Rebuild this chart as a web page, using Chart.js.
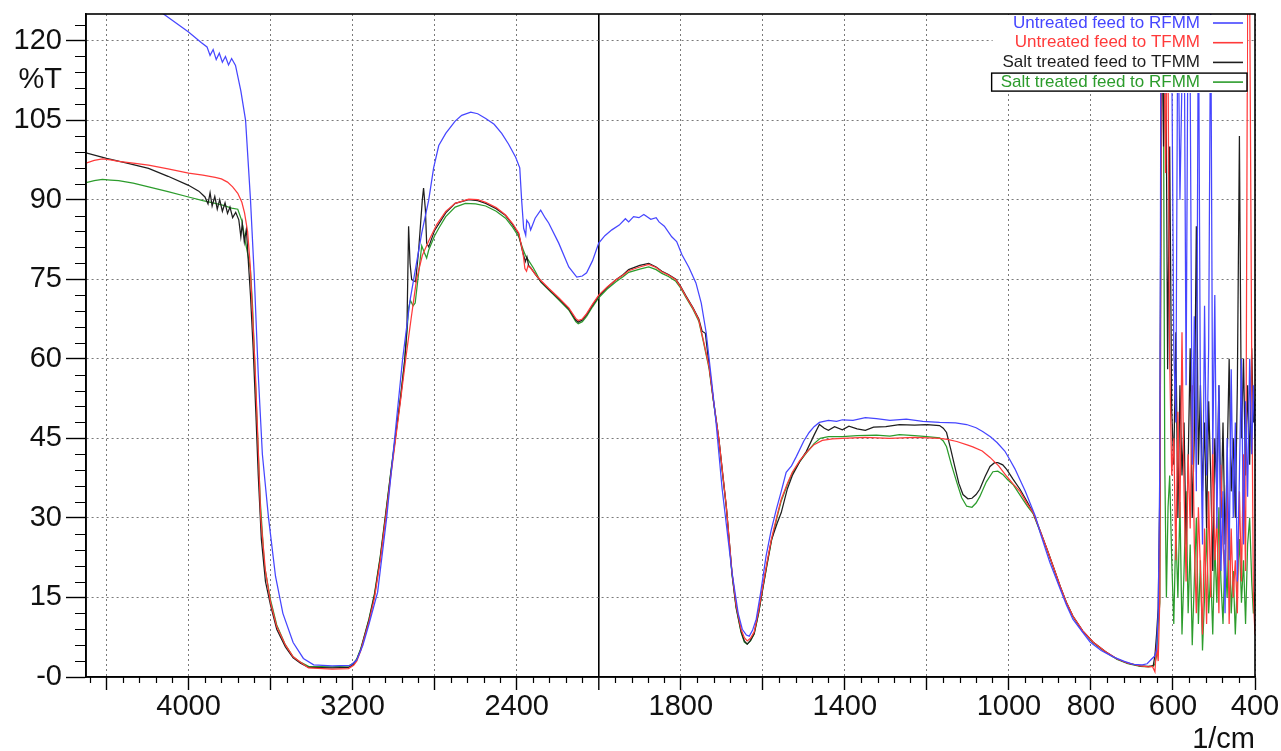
<!DOCTYPE html>
<html>
<head>
<meta charset="utf-8">
<title>FTIR spectra</title>
<script src="https://cdn.jsdelivr.net/npm/chart.js@4.4.0/dist/chart.umd.min.js"></script>
<style>
  html, body { margin: 0; padding: 0; background: #fff; }
  #wrap { width: 1281px; height: 751px; position: relative; }
</style>
</head>
<body>
<div id="wrap"><canvas id="ftirChart"></canvas></div>
<script>
// Tick marks on the split wavenumber axis
const xMajorTicks = [4400, 4000, 3600, 3200, 2800, 2400, 2000, 1800, 1600, 1400, 1200, 1000, 800, 600, 400];
const xTickLabels = [4000, 3200, 2400, 1800, 1400, 1000, 800, 600, 400];
const yMajorTicks = [0, 15, 30, 45, 60, 75, 90, 105, 112.5, 120];
const yUnitTick = 112.5; // where "%T" sits

const seriesLabels = ['Untreated feed to RFMM', 'Untreated feed to TFMM', 'Salt treated feed to TFMM', 'Salt treated feed to RFMM'];
const seriesColors = ['#4646ff', '#ff3a3a', '#1e1e1e', '#2c9c2c'];

// Untreated feed to RFMM (blue)
const untreatedRfmmWn = [
  4500, 4122, 4000, 3937, 3910, 3895, 3880, 3865, 3850, 3835,
  3820, 3805, 3790, 3771, 3745, 3722, 3698, 3680, 3660, 3640,
  3610, 3576, 3540, 3490, 3440, 3390, 3300, 3210, 3180, 3150,
  3120, 3078, 3034, 2995, 2956, 2920, 2900, 2863, 2829, 2805,
  2780, 2746, 2700, 2668, 2624, 2590, 2551, 2510, 2473, 2440, 2405,
  2385, 2376, 2366, 2356,
  2351, 2340, 2332, 2310, 2283, 2260, 2244, 2195, 2146, 2107,
  2080, 2059, 2030, 2000, 1985, 1968, 1950, 1935, 1927, 1915,
  1902, 1890, 1873, 1860, 1853, 1840, 1822, 1810, 1797, 1780,
  1763, 1750, 1738, 1725, 1714, 1699, 1675, 1660, 1650, 1640,
  1633, 1625, 1616, 1605, 1592, 1580, 1567, 1555, 1543, 1530,
  1518, 1500, 1487, 1475, 1462, 1440, 1420, 1406, 1380, 1350,
  1323, 1290, 1250, 1210, 1169, 1130, 1103, 1080, 1064, 1045,
  1029, 1010, 998, 985, 973, 960, 949, 935, 924, 912,
  900, 887, 875, 860, 844, 820, 802, 775, 746, 720,
  697, 675, 663, 652, 645, 640, 636, 632, 629, 624,
  619, 614, 609, 604, 598, 593, 588, 583, 578, 573,
  568, 563, 558, 553, 548, 543, 538, 533, 528, 523,
  518, 513, 508, 503, 498, 493, 488, 483, 478, 473,
  468, 463, 458, 453, 448, 443, 438, 433, 428, 423,
  418, 413, 408, 404, 400
];
const untreatedRfmmT = [
  135, 125, 121.6, 119.6, 118.8, 117.2, 118.3, 116.4, 117.6, 115.9,
  117.0, 115.4, 116.6, 115.3, 110.5, 105, 90, 76, 57, 42,
  30, 19, 12, 6.5, 3.5, 2.3, 2.1, 2.2, 3.2, 6,
  10, 16, 30, 45, 60, 71, 75.5, 83.7, 89.9, 96,
  100.2, 102.5, 104.8, 105.9, 106.5, 106.2, 105.3, 104.2, 102.5, 100.5, 98,
  96, 90, 84.6, 83.3,
  86.1, 85.5, 84.3, 86.5, 88, 86.5, 85.6, 81.8, 77.3, 75.4,
  75.6, 76.2, 78.5, 81.8, 83.2, 84.3, 85.2, 86.4, 85.8, 86.8,
  86.6, 87.2, 86.3, 86.6, 85.8, 85.0, 83.0, 82.1, 79.6, 77.2,
  74.3, 70.5, 64.9, 56, 48, 35.4, 19.7, 12, 9, 7.9,
  7.7, 8.8, 10.9, 16, 22.8, 27.5, 31.6, 35, 38.6, 39.8,
  41.6, 44.5, 46.1, 47.2, 48, 48.4, 48.2, 48.5, 48.4, 48.9,
  48.7, 48.4, 48.6, 48.2, 48, 47.9, 47.6, 47.0, 46.3, 45.3,
  44.2, 42.6, 41, 39.2, 37.2, 35, 32.9, 30.2, 27.3, 24.4,
  21.6, 19, 16.6, 13.6, 10.9, 8.4, 6.6, 5.0, 3.8, 3.0,
  2.4, 2.3, 2.5, 3.4, 3.9, 5, 12, 40, 130, 130,
  110, 130, 118, 130, 62, 48, 130, 90, 113, 130,
  55, 130, 112, 40, 68, 35, 130, 50, 25, 70,
  38, 62, 130, 42, 72, 28, 55, 20, 35, 12,
  45, 22, 58, 30, 48, 18, 38, 60, 25, 52,
  34, 60, 42, 55, 45
];

// Untreated feed to TFMM (red)
const untreatedTfmmWn = [
  4500, 4460, 4420, 4380, 4341, 4270, 4195, 4100, 4000, 3930,
  3870, 3840, 3810, 3785, 3760, 3740, 3727, 3712, 3700, 3690,
  3675, 3662, 3648, 3625, 3600, 3570, 3527, 3490, 3454, 3415,
  3300, 3220, 3195, 3180, 3160, 3146, 3120, 3093, 3065, 3039,
  3015, 2990, 2965, 2941, 2915, 2888, 2860, 2829, 2790, 2746,
  2700, 2634, 2590, 2551, 2500, 2454, 2420, 2390, 2375, 2366,
  2360, 2352, 2345, 2332, 2307, 2283, 2244, 2195, 2146, 2112,
  2100, 2080, 2059, 2030, 2000, 1980, 1958, 1940, 1927, 1900,
  1878, 1860, 1846, 1830, 1812, 1800, 1787, 1770, 1756, 1745,
  1731, 1720, 1707, 1698, 1689, 1675, 1665, 1653, 1645, 1638,
  1630, 1621, 1610, 1601, 1590, 1579, 1565, 1555, 1540, 1528,
  1510, 1494, 1475, 1455, 1430, 1406, 1350, 1291, 1230, 1169,
  1150, 1127, 1100, 1088, 1065, 1046, 1025, 1005, 990, 973,
  955, 941, 925, 907, 890, 875, 860, 844, 820, 795,
  765, 736, 710, 680, 660, 650, 644, 640, 636, 632,
  628, 623, 618, 613, 608, 603, 598, 593, 588, 583,
  578, 573, 568, 563, 558, 553, 548, 543, 538, 533,
  528, 523, 518, 513, 508, 503, 498, 493, 488, 483,
  478, 473, 468, 463, 458, 453, 448, 443, 438, 433,
  428, 423, 418, 413, 408, 404, 400
];
const untreatedTfmmT = [
  96.9, 97.4, 97.7, 97.5, 97.2, 96.9, 96.5, 95.8, 95, 94.6,
  94.2, 93.9, 93.3, 92.4, 91.2, 89.5, 87.5, 84, 78, 70,
  58, 45, 30, 20, 14, 9.5, 6, 3.8, 2.8, 1.7,
  1.5, 1.6, 2.2, 3, 5, 7, 10.5, 15, 22, 30,
  37.5, 45, 52.5, 60, 67.5, 75, 79.5, 82.2, 85.3, 87.8,
  89.3, 90.1, 90.0, 89.5, 88.5, 87.1, 85.5, 83.7, 81, 79,
  77, 76.5, 77.5, 77.1, 75.8, 74.8, 73.3, 71.5, 69.6, 67.6,
  67.2, 67.5, 68.5, 70.3, 72, 73.5, 74.9, 75.8, 76.6, 77.3,
  77.8, 77.2, 76.4, 75.8, 74.9, 73.5, 71.7, 69.5, 67.3, 63.5,
  58.5, 52, 44.8, 38.5, 32.2, 19.7, 13.5, 9, 7.4, 6.8,
  7.3, 8.5, 12.5, 16.6, 21.5, 26, 30.5, 33.5, 36.5, 38.6,
  40.8, 42.3, 43.8, 44.6, 44.9, 45, 45.2, 45.0, 45.2, 45,
  44.8, 44.4, 43.7, 43.4, 42.6, 41.4, 39.8, 37.8, 36.4, 35,
  32.6, 31, 27.8, 24.1, 20.4, 17.1, 14.1, 11.5, 8.7, 6.6,
  4.8, 3.4, 2.6, 2.1, 1.9, 2.0, 1, 6, 3, 15,
  130, 130, 95, 130, 60, 38, 45, 22, 50, 30,
  65, 35, 18, 42, 28, 55, 25, 12, 32, 20,
  8, 28, 10, 35, 15, 45, 22, 30, 12, 40,
  25, 18, 38, 10, 28, 15, 22, 12, 35, 18,
  42, 20, 130, 130, 60, 15, 8
];

// Salt treated feed to TFMM (black)
const saltTfmmWn = [
  4500, 4450, 4400, 4300, 4195, 4100, 4000, 3950, 3920, 3905,
  3895, 3885, 3872, 3860, 3848, 3835, 3822, 3810, 3798, 3785,
  3770, 3755, 3745, 3738, 3728, 3718, 3708, 3698, 3685, 3672,
  3660, 3645, 3625, 3600, 3570, 3527, 3490, 3454, 3415, 3300,
  3220, 3195, 3180, 3160, 3146, 3120, 3093, 3065, 3039, 3015,
  2990, 2965, 2945, 2935, 2927, 2920, 2912, 2893, 2878, 2860,
  2854, 2845, 2839, 2829, 2800, 2746, 2700, 2634, 2590, 2551,
  2500, 2454, 2420, 2390, 2375, 2366, 2358, 2350, 2342, 2332,
  2307, 2283, 2244, 2195, 2146, 2112, 2100, 2080, 2059, 2030,
  2000, 1980, 1958, 1940, 1927, 1900, 1878, 1860, 1846, 1830,
  1812, 1800, 1787, 1770, 1756, 1748, 1740, 1731, 1720, 1707,
  1698, 1689, 1675, 1665, 1653, 1645, 1638, 1630, 1621, 1610,
  1601, 1590, 1579, 1565, 1555, 1540, 1528, 1510, 1494, 1475,
  1462, 1450, 1440, 1425, 1406, 1390, 1370, 1350, 1330, 1300,
  1267, 1230, 1200, 1169, 1160, 1152, 1142, 1132, 1122, 1112,
  1100, 1090, 1080, 1071, 1058, 1046, 1035, 1027, 1015, 1005,
  990, 973, 955, 941, 925, 907, 890, 875, 860, 844,
  820, 795, 765, 736, 710, 680, 660, 652, 648, 644,
  640, 636, 632, 628, 623, 618, 613, 608, 603, 598,
  593, 588, 583, 578, 573, 568, 563, 558, 553, 548,
  543, 538, 533, 528, 523, 518, 513, 508, 503, 498,
  493, 488, 483, 478, 473, 468, 463, 458, 453, 448,
  443, 438, 433, 428, 423, 418, 413, 408, 404, 400
];
const saltTfmmT = [
  98.8, 98.3, 97.8, 96.9, 95.9, 94.4, 92.7, 91.6, 90.5, 89.2,
  91.3, 88.8, 90.6, 88.2, 90.0, 87.8, 89.4, 87.4, 88.6, 86.6,
  87.6, 86.2, 83.0, 85.5, 82.0, 84.5, 78, 72, 62, 50,
  38, 26, 18, 13.5, 9, 5.6, 3.6, 2.6, 1.8, 1.7,
  1.8, 2.4, 3.2, 5.2, 7.2, 10.8, 15.5, 22.5, 30.5, 38,
  45.5, 53, 60, 66, 85, 78, 74.9, 74.5, 80.5, 90,
  92.2, 88, 81.8, 81.1, 84.2, 87.5, 89.3, 90.0, 89.8, 89.3,
  88.3, 87, 85.3, 83.5, 80.8, 79.5, 78.3, 79.2, 77.6, 77.2,
  75.8, 74.6, 73.1, 71.3, 69.4, 67.3, 66.9, 67.3, 68.3, 70.1,
  71.8, 73.4, 74.9, 75.9, 76.8, 77.6, 78.0, 77.3, 76.5, 75.9,
  75.0, 73.6, 71.8, 69.6, 67.5, 65.2, 64.8, 58.8, 52, 44.8,
  38.5, 32.2, 19.5, 13.2, 8.6, 6.8, 6.2, 6.9, 8.2, 12.2,
  16.3, 21.2, 25.8, 29, 31, 35.5, 38.0, 40.6, 42.5, 45.6,
  47.6, 46.9, 46.5, 47.2, 46.6, 47.3, 46.8, 46.5, 47.1, 47.2,
  47.6, 47.5, 47.6, 47.4, 46.9, 46.1, 43, 39.7, 36.5, 34.4,
  33.6, 33.7, 34.4, 35.4, 37.8, 39.7, 40.4, 40.4, 40.0, 39.1,
  37.3, 35.4, 33.0, 31, 27.8, 24.1, 20.4, 17.1, 14.1, 11.5,
  8.7, 6.6, 4.8, 3.4, 2.6, 2.1, 2.0, 2.1, 2.2, 4,
  8, 13, 35, 130, 100, 130, 58, 100, 50, 40,
  65, 30, 55, 38, 48, 25, 40, 62, 30, 45,
  85, 40, 55, 35, 48, 28, 52, 38, 20, 45,
  35, 55, 30, 48, 25, 40, 60, 35, 45, 30,
  55, 102, 45, 60, 38, 55, 40, 62, 48, 52
];

// Salt treated feed to RFMM (green)
const saltRfmmWn = [
  4500, 4460, 4420, 4380, 4341, 4270, 4195, 4100, 4000, 3930,
  3870, 3830, 3790, 3760, 3740, 3722, 3710, 3698, 3688, 3678,
  3665, 3650, 3630, 3600, 3570, 3530, 3490, 3455, 3415, 3300,
  3220, 3195, 3180, 3160, 3146, 3120, 3093, 3065, 3039, 3015,
  2990, 2965, 2948, 2935, 2927, 2918, 2905, 2895, 2880, 2863,
  2850, 2839, 2829, 2800, 2780, 2746, 2700, 2650, 2600, 2551,
  2500, 2454, 2420, 2390, 2375, 2366, 2355, 2340, 2320, 2307,
  2283, 2244, 2195, 2146, 2112, 2100, 2080, 2059, 2030, 2000,
  1980, 1958, 1940, 1927, 1900, 1878, 1860, 1846, 1830, 1812,
  1800, 1787, 1770, 1756, 1745, 1731, 1720, 1707, 1698, 1689,
  1675, 1665, 1653, 1645, 1638, 1630, 1621, 1610, 1601, 1590,
  1579, 1565, 1555, 1540, 1528, 1510, 1494, 1475, 1460, 1440,
  1406, 1370, 1323, 1290, 1267, 1230, 1200, 1169, 1160, 1152,
  1140, 1127, 1115, 1103, 1090, 1080, 1071, 1055, 1039, 1027,
  1015, 1003, 990, 978, 966, 955, 941, 925, 907, 890,
  875, 860, 844, 820, 795, 765, 736, 710, 680, 660,
  652, 648, 644, 640, 636, 632, 628, 624, 620, 616,
  612, 608, 603, 598, 593, 588, 583, 578, 573, 568,
  563, 558, 553, 548, 543, 538, 533, 528, 523, 518,
  513, 508, 503, 498, 493, 488, 483, 478, 473, 468,
  463, 458, 453, 448, 443, 438, 433, 428, 423, 418,
  413, 408, 404, 400
];
const saltRfmmT = [
  93.2, 93.6, 93.8, 93.7, 93.6, 93.1, 92.4, 91.5, 90.5, 89.8,
  89.3, 88.9, 88.4, 88.2, 86.0, 81.8, 79.5, 76.7, 70, 60,
  47, 33, 21, 14.5, 9.8, 6.2, 3.8, 2.8, 2.0, 1.9,
  2.1, 2.6, 3.4, 5.4, 7.3, 11, 15.8, 22.8, 30.8, 38.3,
  45.8, 53.3, 59, 65, 69.6, 71, 70, 70.5, 75.5, 81.3,
  80, 79, 80.5, 83.2, 84.6, 86.8, 88.6, 89.3, 89.2, 88.8,
  87.8, 86.5, 84.8, 83, 81.3, 80.3, 79.3, 78.4, 77.2, 76.3,
  74.5, 73, 71.1, 69.2, 67.0, 66.6, 67.0, 68, 69.8, 71.5,
  73.1, 74.5, 75.5, 76.3, 76.9, 77.3, 76.8, 76.1, 75.5, 74.6,
  73.3, 71.5, 69.3, 67.1, 63.3, 58.2, 51.8, 44.6, 38.2, 32,
  19.3, 13.0, 8.4, 6.6, 6.2, 6.8, 8.1, 12.1, 16.2, 21.0,
  25.6, 30.2, 33.2, 36.3, 38.4, 40.6, 42.2, 44.0, 45.0, 45.3,
  45.3, 45.5, 45.6, 45.4, 45.7, 45.5, 45.3, 45.1, 44.5, 43.4,
  40, 36.7, 33.8, 32.2, 32, 32.8, 34, 36.8, 38.7, 38.8,
  38.2, 37.2, 36.3, 34.9, 33.5, 32.2, 30.8, 27.6, 24.0, 20.3,
  17.0, 14.0, 11.4, 8.6, 6.5, 4.7, 3.3, 2.5, 2.0, 1.9,
  2.0, 2, 2.5, 4, 10, 14, 130, 130, 40, 15,
  32, 38, 22, 10, 28, 15, 33, 8, 20, 35,
  12, 25, 6, 18, 30, 10, 22, 5, 15, 28,
  12, 20, 8, 25, 14, 32, 18, 10, 24, 15,
  30, 12, 20, 8, 18, 26, 14, 22, 10, 25,
  30, 18, 12, 16
];

(function() {
  'use strict';

  // The axis is split at 2000 1/cm: 4500-2000 is drawn at half the scale of 2000-400
  function toPos(wn) {
    return wn >= 2000 ? (4500 - wn) / 2 : 1250 + (2000 - wn);
  }
  function toWn(pos) {
    return pos <= 1250 ? 4500 - pos * 2 : 2000 - (pos - 1250);
  }
  function toPoints(wn, t) {
    return wn.map((w, i) => ({ x: toPos(w), y: t[i] }));
  }

  const splitPos = toPos(2000);
  const fontFamily = '"Liberation Sans", Arial, sans-serif';
  const gridGray = '#7a7a7a';
  const clear = 'rgba(0,0,0,0)';

  // Minor ticks, frame and legend box
  const decorPlugin = {
    id: 'ftirDecor',
    afterDraw(chart) {
      const { ctx, chartArea: a, scales: { x, y } } = chart;
      ctx.save();

      // minor ticks
      ctx.strokeStyle = '#000';
      ctx.lineWidth = 1.2;
      ctx.beginPath();
      for (let w = 4480; w > 2000; w -= 80) {
        if (w % 400 === 0) continue;
        const px = Math.round(x.getPixelForValue(toPos(w))) + 0.5;
        ctx.moveTo(px, a.bottom);
        ctx.lineTo(px, a.bottom + 6);
      }
      for (let w = 1960; w > 400; w -= 40) {
        if (w % 200 === 0) continue;
        const px = Math.round(x.getPixelForValue(toPos(w))) + 0.5;
        ctx.moveTo(px, a.bottom);
        ctx.lineTo(px, a.bottom + 6);
      }
      for (let v = 3; v < 125; v += 3) {
        if (v % 15 === 0) continue;
        const py = Math.round(y.getPixelForValue(v)) + 0.5;
        ctx.moveTo(a.left - 11, py);
        ctx.lineTo(a.left, py);
      }
      ctx.stroke();

      // legend in the top right corner, on a white panel
      ctx.font = '17px ' + fontFamily;
      ctx.textAlign = 'right';
      ctx.textBaseline = 'middle';
      const textRight = a.right - 55;
      const widest = Math.max(...chart.data.datasets.map(ds => ctx.measureText(ds.label).width));
      ctx.fillStyle = '#fff';
      ctx.fillRect(textRight - widest - 8, a.top + 1, a.right - 8 - (textRight - widest - 8), 78);

      chart.data.datasets.forEach((ds, i) => {
        const yy = a.top + 9 + i * 19.7;
        ctx.fillStyle = ds.borderColor;
        ctx.fillText(ds.label, textRight, yy);
        ctx.beginPath();
        ctx.moveTo(a.right - 42, yy);
        ctx.lineTo(a.right - 12, yy);
        ctx.strokeStyle = ds.borderColor;
        ctx.lineWidth = 1.6;
        ctx.stroke();
        if (i === chart.data.datasets.length - 1) {
          const tw = ctx.measureText(ds.label).width;
          ctx.strokeStyle = '#000';
          ctx.lineWidth = 1.4;
          ctx.strokeRect(textRight - tw - 9, yy - 9, a.right - 8 - (textRight - tw - 9), 18);
        }
      });

      // plot frame
      ctx.strokeStyle = '#000';
      ctx.lineWidth = 1.6;
      ctx.strokeRect(a.left, a.top, a.right - a.left, a.bottom - a.top);

      ctx.restore();
    }
  };

  function init() {
    const canvas = document.getElementById('ftirChart');
    if (!canvas) return;

    Chart.defaults.font.family = fontFamily;

    const allWn = [untreatedRfmmWn, untreatedTfmmWn, saltTfmmWn, saltRfmmWn];
    const allT = [untreatedRfmmT, untreatedTfmmT, saltTfmmT, saltRfmmT];

    const datasets = seriesLabels.map((label, i) => ({
      label: label,
      data: toPoints(allWn[i], allT[i]),
      borderColor: seriesColors[i],
      backgroundColor: seriesColors[i],
      borderWidth: 1.25,
      pointRadius: 0,
      showLine: true,
      tension: 0,
      fill: false
    }));

    new Chart(canvas, {
      type: 'scatter',
      data: { datasets: datasets },
      plugins: [decorPlugin],
      options: {
        responsive: true,
        maintainAspectRatio: false,
        animation: false,
        events: [],
        layout: { padding: { left: 0, top: 14, right: 26, bottom: 0 } },
        plugins: {
          legend: { display: false },
          tooltip: { enabled: false }
        },
        scales: {
          x: {
            type: 'linear',
            min: 0,
            max: toPos(400),
            afterBuildTicks: scale => {
              scale.ticks = xMajorTicks.map(w => ({ value: toPos(w) }));
            },
            afterFit: scale => {
              scale.height = 74;
              scale.paddingLeft = 0;
              scale.paddingRight = 0;
            },
            ticks: {
              autoSkip: false,
              maxRotation: 0,
              padding: 0,
              color: '#111',
              font: { size: 29 },
              callback: value => {
                const w = Math.round(toWn(value));
                return xTickLabels.includes(w) ? String(w) : '';
              }
            },
            grid: {
              color: c => (c.tick && c.tick.value === splitPos) ? '#000' : gridGray,
              lineWidth: c => (c.tick && c.tick.value === splitPos) ? 1.6 : 1,
              tickLength: 13,
              tickColor: '#000',
              tickWidth: 1.4
            },
            border: {
              display: true,
              color: '#000',
              width: 1.6,
              dash: c => (c.tick && c.tick.value === splitPos) ? [] : [2, 3]
            },
            title: {
              display: true,
              text: '1/cm',
              align: 'end',
              color: '#111',
              font: { size: 29, lineHeight: 0.76 },
              padding: 0
            }
          },
          y: {
            min: 0,
            max: 125,
            afterBuildTicks: scale => {
              scale.ticks = yMajorTicks.map(v => ({ value: v }));
            },
            afterFit: scale => {
              scale.width = 86;
              scale.paddingTop = 0;
              scale.paddingBottom = 0;
            },
            ticks: {
              autoSkip: false,
              padding: 4,
              color: '#111',
              font: { size: 29 },
              callback: value => {
                if (value === 0) return '-0';
                if (value === yUnitTick) return '%T';
                return String(value);
              }
            },
            grid: {
              color: c => (c.tick && (c.tick.value === 0 || c.tick.value === yUnitTick)) ? clear : gridGray,
              lineWidth: 1,
              tickLength: 20,
              tickColor: c => (c.tick && c.tick.value === yUnitTick) ? clear : '#000',
              tickWidth: 1.4
            },
            border: {
              display: true,
              color: '#000',
              width: 1.6,
              dash: [2, 3]
            }
          }
        }
      }
    });
  }

  if (document.readyState === 'loading') {
    document.addEventListener('DOMContentLoaded', init);
  } else {
    init();
  }
})();
</script>
</body>
</html>
